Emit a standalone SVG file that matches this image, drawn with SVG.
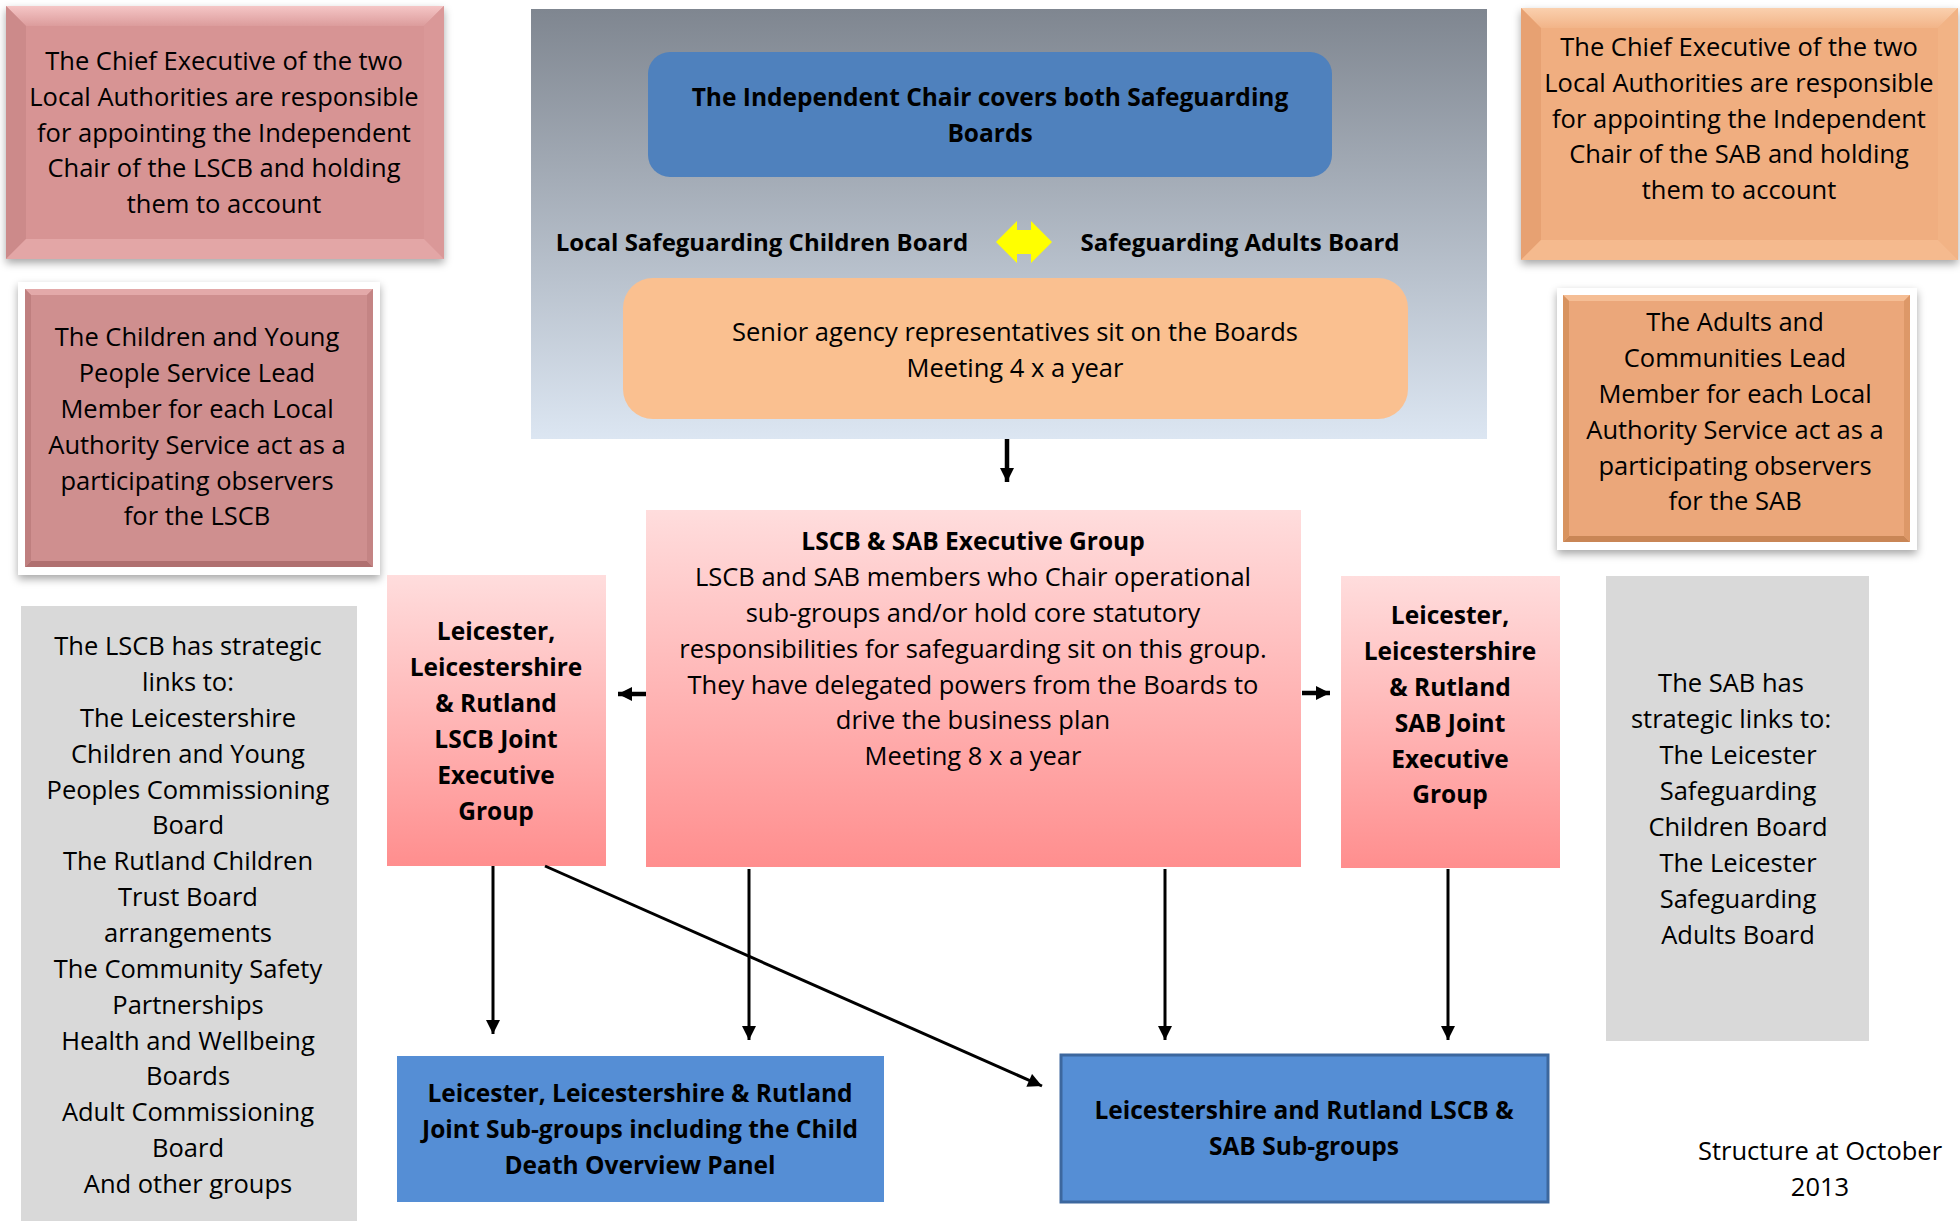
<svg xmlns="http://www.w3.org/2000/svg" width="1960" height="1221" viewBox="0 0 1960 1221">
<style>
  text { font-family: "Open Sans", "Liberation Sans", sans-serif; fill: #000; text-anchor: middle; }
  .r { font-size: 25.5px; }
  .b { font-size: 24.5px; font-weight: bold; }
  .conn line { stroke: #000; stroke-width: 3; fill: none; }
  .conn line.s { stroke-width: 4.5; }
</style>
<defs>
  <filter id="sh" x="-10%" y="-10%" width="120%" height="125%">
    <feDropShadow dx="0" dy="4" stdDeviation="4" flood-color="#000" flood-opacity="0.35"/>
  </filter>
  <linearGradient id="panel" x1="0" y1="0" x2="0" y2="1">
    <stop offset="0" stop-color="#7F8690"/>
    <stop offset="1" stop-color="#DCE6F2"/>
  </linearGradient>
  <linearGradient id="pinkg" x1="0" y1="0" x2="0" y2="1">
    <stop offset="0" stop-color="#FFDDDD"/>
    <stop offset="1" stop-color="#FF8E8E"/>
  </linearGradient>
  <linearGradient id="bevTopP" x1="0" y1="0" x2="0" y2="1">
    <stop offset="0" stop-color="#F5C6C6"/>
    <stop offset="1" stop-color="#DC9C9C"/>
  </linearGradient>
  <linearGradient id="bevTopO" x1="0" y1="0" x2="0" y2="1">
    <stop offset="0" stop-color="#FAD0AE"/>
    <stop offset="1" stop-color="#F2B488"/>
  </linearGradient>
  <marker id="ah" viewBox="0 0 10 10" refX="10" refY="5" markerWidth="15" markerHeight="14" markerUnits="userSpaceOnUse" orient="auto">
    <path d="M0,0 L10,5 L0,10 z" fill="#000"/>
  </marker>
  <marker id="ahs" viewBox="0 0 10 10" refX="10" refY="5" markerWidth="14" markerHeight="15" markerUnits="userSpaceOnUse" orient="auto">
    <path d="M0,0 L10,5 L0,10 z" fill="#000"/>
  </marker>
</defs>

<rect width="1960" height="1221" fill="#FFFFFF"/>

<!-- Top-left bevel box -->
<g id="ce-lscb">
  <g filter="url(#sh)">
    <rect x="6" y="6" width="438" height="253" fill="#D79494"/>
  </g>
  <polygon points="6,6 444,6 424,26 26,26" fill="url(#bevTopP)"/>
  <polygon points="6,6 26,26 26,239 6,259" fill="#CC8A8A"/>
  <polygon points="444,6 444,259 424,239 424,26" fill="#DA9898"/>
  <polygon points="6,259 26,239 424,239 444,259" fill="#E3A6A6"/>
  <rect x="26" y="26" width="398" height="213" fill="#D79494"/>
  <text class="r"><tspan x="224" y="70">The Chief Executive of the two</tspan><tspan x="224" y="106">Local Authorities are responsible</tspan><tspan x="224" y="142">for appointing the Independent</tspan><tspan x="224" y="177">Chair of the LSCB and holding</tspan><tspan x="224" y="213">them to account</tspan></text>
</g>

<!-- Left lead member box -->
<g id="lead-lscb">
  <rect x="18" y="282" width="362" height="293" fill="#FFFFFF" filter="url(#sh)"/>
  <rect x="25" y="289" width="348" height="278" fill="#CF8F8F"/>
  <polygon points="25,289 373,289 367,295 31,295" fill="#E3A9A9"/>
  <polygon points="25,567 31,561 367,561 373,567" fill="#B07070"/>
  <polygon points="25,289 31,295 31,561 25,567" fill="#BF7F7F"/>
  <polygon points="373,289 373,567 367,561 367,295" fill="#C48484"/>
  <text class="r"><tspan x="197" y="346">The Children and Young</tspan><tspan x="197" y="382">People Service Lead</tspan><tspan x="197" y="418">Member for each Local</tspan><tspan x="197" y="454">Authority Service act as a</tspan><tspan x="197" y="490">participating observers</tspan><tspan x="197" y="525">for the LSCB</tspan></text>
</g>

<!-- Top centre panel -->
<g id="boards-panel">
  <rect x="531" y="9" width="956" height="430" fill="url(#panel)"/>
</g>
<g id="independent-chair">
  <rect x="648" y="52" width="684" height="125" rx="22" fill="#4F81BD"/>
  <text class="b"><tspan x="990" y="106">The Independent Chair covers both Safeguarding</tspan><tspan x="990" y="142">Boards</tspan></text>
</g>
<g id="lscb-label">
  <text class="b" style="font-size:24px" x="762" y="251">Local Safeguarding Children Board</text>
</g>
<g id="link-arrow">
  <polygon points="996,242 1017,221 1017,230 1031,230 1031,221 1052,242 1031,263 1031,254 1017,254 1017,263" fill="#FFFF00"/>
</g>
<g id="sab-label">
  <text class="b" style="font-size:24px" x="1240" y="251">Safeguarding Adults Board</text>
</g>
<g id="senior-reps">
  <rect x="623" y="278" width="785" height="141" rx="30" fill="#FAC090"/>
  <text class="r"><tspan x="1015" y="341">Senior agency representatives sit on the Boards</tspan><tspan x="1015" y="377">Meeting 4 x a year</tspan></text>
</g>

<!-- Top-right bevel box -->
<g id="ce-sab">
  <g filter="url(#sh)">
    <rect x="1521" y="8" width="437" height="252" fill="#F0AE80"/>
  </g>
  <polygon points="1521,8 1958,8 1938,28 1541,28" fill="url(#bevTopO)"/>
  <polygon points="1521,8 1541,28 1541,240 1521,260" fill="#E7A172"/>
  <polygon points="1958,8 1958,260 1938,240 1938,28" fill="#F2B385"/>
  <polygon points="1521,260 1541,240 1938,240 1958,260" fill="#F5BA8E"/>
  <rect x="1541" y="28" width="397" height="212" fill="#F0AE80"/>
  <text class="r"><tspan x="1739" y="56">The Chief Executive of the two</tspan><tspan x="1739" y="92">Local Authorities are responsible</tspan><tspan x="1739" y="128">for appointing the Independent</tspan><tspan x="1739" y="163">Chair of the SAB and holding</tspan><tspan x="1739" y="199">them to account</tspan></text>
</g>

<!-- Right lead member box -->
<g id="lead-sab">
  <rect x="1557" y="288" width="360" height="262" fill="#FFFFFF" filter="url(#sh)"/>
  <rect x="1563" y="295" width="347" height="247" fill="#EBA77A"/>
  <polygon points="1563,295 1910,295 1904,301 1569,301" fill="#F5BE95"/>
  <polygon points="1563,542 1569,536 1904,536 1910,542" fill="#C98656"/>
  <polygon points="1563,295 1569,301 1569,536 1563,542" fill="#D8935F"/>
  <polygon points="1910,295 1910,542 1904,536 1904,301" fill="#DD9868"/>
  <text class="r"><tspan x="1735" y="331">The Adults and</tspan><tspan x="1735" y="367">Communities Lead</tspan><tspan x="1735" y="403">Member for each Local</tspan><tspan x="1735" y="439">Authority Service act as a</tspan><tspan x="1735" y="475">participating observers</tspan><tspan x="1735" y="510">for the SAB</tspan></text>
</g>

<!-- Executive group -->
<g id="exec-group">
  <rect x="646" y="510" width="655" height="357" fill="url(#pinkg)"/>
  <text class="r"><tspan x="973" y="550" style="font-weight:bold;font-size:24.5px">LSCB &amp; SAB Executive Group</tspan><tspan x="973" y="586">LSCB and SAB members who Chair operational</tspan><tspan x="973" y="622">sub-groups and/or hold core statutory</tspan><tspan x="973" y="658">responsibilities for safeguarding sit on this group.</tspan><tspan x="973" y="694">They have delegated powers from the Boards to</tspan><tspan x="973" y="729">drive the business plan</tspan><tspan x="973" y="765">Meeting 8 x a year</tspan></text>
</g>

<!-- LSCB joint executive -->
<g id="lscb-joint">
  <rect x="387" y="575" width="219" height="291" fill="url(#pinkg)"/>
  <text class="b"><tspan x="496" y="640">Leicester,</tspan><tspan x="496" y="676">Leicestershire</tspan><tspan x="496" y="712">&amp; Rutland</tspan><tspan x="496" y="748">LSCB Joint</tspan><tspan x="496" y="784">Executive</tspan><tspan x="496" y="820">Group</tspan></text>
</g>

<!-- SAB joint executive -->
<g id="sab-joint">
  <rect x="1341" y="576" width="219" height="292" fill="url(#pinkg)"/>
  <text class="b"><tspan x="1450" y="624">Leicester,</tspan><tspan x="1450" y="660">Leicestershire</tspan><tspan x="1450" y="696">&amp; Rutland</tspan><tspan x="1450" y="732">SAB Joint</tspan><tspan x="1450" y="768">Executive</tspan><tspan x="1450" y="803">Group</tspan></text>
</g>

<!-- LSCB strategic links -->
<g id="lscb-links">
  <rect x="21" y="606" width="336" height="615" fill="#D9D9D9"/>
  <text class="r"><tspan x="188" y="655">The LSCB has strategic</tspan><tspan x="188" y="691">links to:</tspan><tspan x="188" y="727">The Leicestershire</tspan><tspan x="188" y="763">Children and Young</tspan><tspan x="188" y="799">Peoples Commissioning</tspan><tspan x="188" y="834">Board</tspan><tspan x="188" y="870">The Rutland Children</tspan><tspan x="188" y="906">Trust Board</tspan><tspan x="188" y="942">arrangements</tspan><tspan x="188" y="978">The Community Safety</tspan><tspan x="188" y="1014">Partnerships</tspan><tspan x="188" y="1050">Health and Wellbeing</tspan><tspan x="188" y="1085">Boards</tspan><tspan x="188" y="1121">Adult Commissioning</tspan><tspan x="188" y="1157">Board</tspan><tspan x="188" y="1193">And other groups</tspan></text>
</g>

<!-- SAB strategic links -->
<g id="sab-links">
  <rect x="1606" y="576" width="263" height="465" fill="#D9D9D9"/>
  <text class="r"><tspan x="1731" y="692">The SAB has</tspan><tspan x="1731" y="728">strategic links to:</tspan><tspan x="1738" y="764">The Leicester</tspan><tspan x="1738" y="800">Safeguarding</tspan><tspan x="1738" y="836">Children Board</tspan><tspan x="1738" y="872">The Leicester</tspan><tspan x="1738" y="908">Safeguarding</tspan><tspan x="1738" y="944">Adults Board</tspan></text>
</g>

<!-- Bottom sub-group boxes -->
<g id="joint-subgroups">
  <rect x="397" y="1056" width="487" height="146" fill="#558ED5"/>
  <text class="b"><tspan x="640" y="1102">Leicester, Leicestershire &amp; Rutland</tspan><tspan x="640" y="1138">Joint Sub-groups including the Child</tspan><tspan x="640" y="1174">Death Overview Panel</tspan></text>
</g>
<g id="lr-subgroups">
  <rect x="1061" y="1055" width="487" height="147" fill="#558ED5" stroke="#3C679E" stroke-width="3"/>
  <text class="b"><tspan x="1304" y="1119">Leicestershire and Rutland LSCB &amp;</tspan><tspan x="1304" y="1155">SAB Sub-groups</tspan></text>
</g>

<g id="footnote">
  <text class="r"><tspan x="1820" y="1160">Structure at October</tspan><tspan x="1820" y="1196">2013</tspan></text>
</g>

<!-- Connectors -->
<g id="connectors" class="conn">
  <line class="s" x1="1007" y1="439" x2="1007" y2="482" marker-end="url(#ahs)"/>
  <line class="s" x1="646" y1="694" x2="618" y2="694" marker-end="url(#ahs)"/>
  <line class="s" x1="1302" y1="693" x2="1330" y2="693" marker-end="url(#ahs)"/>
  <line x1="493" y1="866" x2="493" y2="1034" marker-end="url(#ah)"/>
  <line x1="749" y1="869" x2="749" y2="1040" marker-end="url(#ah)"/>
  <line x1="1165" y1="869" x2="1165" y2="1040" marker-end="url(#ah)"/>
  <line x1="1448" y1="869" x2="1448" y2="1040" marker-end="url(#ah)"/>
  <line x1="545" y1="866" x2="1042" y2="1086" marker-end="url(#ah)"/>
</g>
</svg>
